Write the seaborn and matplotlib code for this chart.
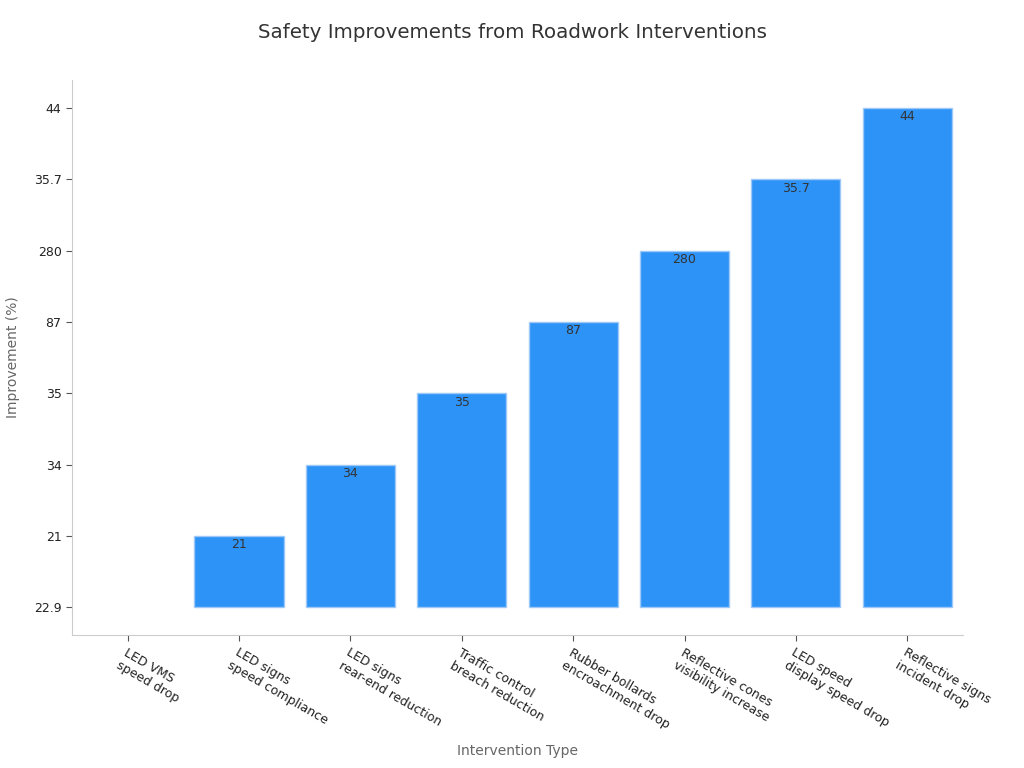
import matplotlib
matplotlib.use("Agg")
import matplotlib.pyplot as plt
import seaborn as sns
import pandas as pd

interventions = [
    "LED VMS\nspeed drop",
    "LED signs\nspeed compliance",
    "LED signs\nrear-end reduction",
    "Traffic control\nbreach reduction",
    "Rubber bollards\nencroachment drop",
    "Reflective cones\nvisibility increase",
    "LED speed\ndisplay speed drop",
    "Reflective signs\nincident drop",
]
improvement = ["22.9", "21", "34", "35", "87", "280", "35.7", "44"]

# the value axis is categorical: each value sits at its own level
levels = list(dict.fromkeys(improvement))
df = pd.DataFrame({"intervention": interventions, "improvement": improvement})
df["level"] = pd.Categorical(df["improvement"], categories=levels).codes

sns.set_style("white")
plt.rcParams["font.family"] = ["DejaVu Sans"]

fig, ax = plt.subplots(figsize=(10.24, 7.68), dpi=100)
fig.subplots_adjust(left=0.0703, right=0.9404, top=0.8958, bottom=0.1732)

sns.barplot(data=df, x="intervention", y="level", color="#2E93F7",
            width=0.8, saturation=1, edgecolor="#9cc9f7", linewidth=1, ax=ax)

# a zero-height bar shows nothing, not even its edge
for p in ax.patches:
    if p.get_height() == 0:
        p.set_linewidth(0)

for i, row in df.iterrows():
    if row["level"] > 0:
        ax.annotate(row["improvement"], (i, row["level"]), xytext=(0, -6.5),
                    textcoords="offset points", ha="center", va="center",
                    fontsize=9, color="#333333")

ax.set_ylim(-0.39, len(levels) - 1 + 0.39)
ax.set_xlim(-0.5, len(interventions) - 0.5)
ax.set_yticks(range(len(levels)))
ax.set_yticklabels(levels)

ax.tick_params(axis="both", length=4, color="#555555", labelsize=9,
               labelcolor="#222222", direction="out", left=True, bottom=True)
ax.tick_params(axis="x", pad=4)

for lab in ax.get_xticklabels():
    lab.set_rotation(-30)
    lab.set_ha("left")
    lab.set_va("top")
    lab.set_rotation_mode("anchor")
    lab.set_multialignment("left")

for side in ["top", "right"]:
    ax.spines[side].set_visible(False)
for side in ["left", "bottom"]:
    ax.spines[side].set_color("#cccccc")

ax.set_xlabel("Intervention Type", fontsize=10, color="#666666", labelpad=9)
ax.set_ylabel("Improvement (%)", fontsize=10, color="#666666", labelpad=10)
fig.suptitle("Safety Improvements from Roadwork Interventions", fontsize=14.3,
             color="#333333", y=0.97)

fig.savefig("out.png", dpi=100)
